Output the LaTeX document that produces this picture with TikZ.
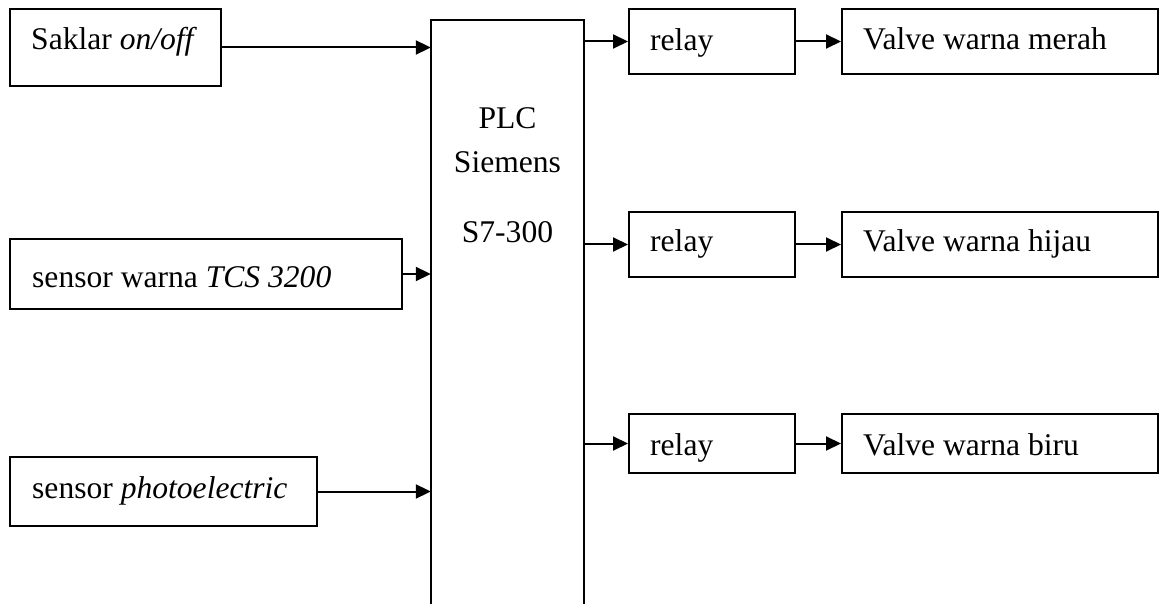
\documentclass[tikz,border=0pt]{standalone}
\usepackage{fontspec}
\setmainfont{Liberation Serif}
\usetikzlibrary{arrows.meta}
\begin{document}
\begin{tikzpicture}[x=1bp,y=-1bp,
  box/.style={draw,line width=2bp,inner sep=0pt},
  lbl/.style={anchor=base west,inner sep=0pt,font=\fontsize{31.7}{38}\selectfont},
  plclbl/.style={anchor=base,inner sep=0pt,font=\fontsize{31.7}{38}\selectfont},
  conn/.style={line width=2bp,-{Triangle[length=15bp,width=14bp]}}]
\useasboundingbox (0,0) rectangle (1160,604);
% input boxes
\node[box,minimum width=211bp,minimum height=77bp] (saklar) at (115.5,47.5) {};
\node[box,minimum width=392bp,minimum height=70bp] (warna) at (206,274) {};
\node[box,minimum width=307bp,minimum height=69bp] (photo) at (163.5,491.5) {};
\node[lbl] (saklart) at (31,50) {Saklar \textit{on/off}};
\node[lbl] (warnat) at (32,288) {sensor warna \textit{TCS 3200}};
\node[lbl] (photot) at (32,498) {sensor \textit{photoelectric}};
% PLC
\node[inner sep=0pt,minimum width=153bp,minimum height=590bp] (plc) at (507.5,315.5) {};
\draw[line width=2bp] (plc.south west) -- (plc.north west) -- (plc.north east) -- (plc.south east);
\node[plclbl] (plct1) at (507.5,129) {PLC};
\node[plclbl] (plct2) at (507.5,173) {Siemens};
\node[plclbl] (plct3) at (507.5,243) {S7-300};
% relays
\node[box,minimum width=166bp,minimum height=65bp] (relay1) at (712,41.5) {};
\node[box,minimum width=166bp,minimum height=65bp] (relay2) at (712,244.5) {};
\node[box,minimum width=166bp,minimum height=59bp] (relay3) at (712,443.5) {};
\node[lbl] (relay1t) at (650,51) {relay};
\node[lbl] (relay2t) at (650,252) {relay};
\node[lbl] (relay3t) at (650,455) {relay};
% valves
\node[box,minimum width=316bp,minimum height=65bp] (valve1) at (1000,41.5) {};
\node[box,minimum width=316bp,minimum height=65bp] (valve2) at (1000,244.5) {};
\node[box,minimum width=316bp,minimum height=59bp] (valve3) at (1000,443.5) {};
\node[lbl] (valve1t) at (863,50) {Valve warna merah};
\node[lbl] (valve2t) at (863,252) {Valve warna hijau};
\node[lbl] (valve3t) at (863,455) {Valve warna biru};
% connectors
\draw[conn] (saklar.east) -- (saklar.east -| plc.west);
\draw[conn] (warna.east) -- (warna.east -| plc.west);
\draw[conn] (photo.east) -- (photo.east -| plc.west);
\draw[conn] (relay1.west -| plc.east) -- (relay1.west);
\draw[conn] (relay2.west -| plc.east) -- (relay2.west);
\draw[conn] (relay3.west -| plc.east) -- (relay3.west);
\draw[conn] (relay1.east) -- (valve1.west);
\draw[conn] (relay2.east) -- (valve2.west);
\draw[conn] (relay3.east) -- (valve3.west);
\end{tikzpicture}
\end{document}
